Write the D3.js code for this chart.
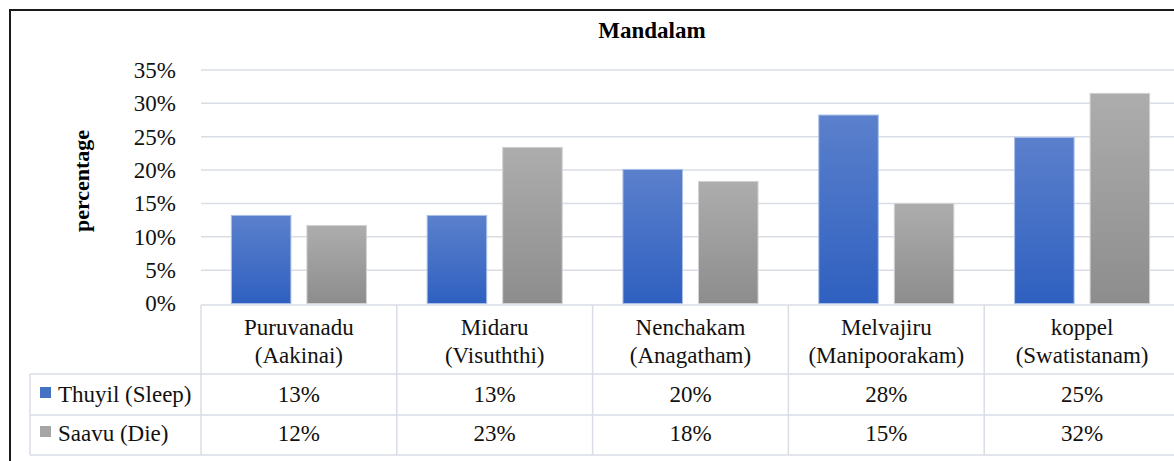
<!DOCTYPE html>
<html>
<head>
<meta charset="utf-8">
<script src="https://cdn.jsdelivr.net/npm/d3@7"></script>
<style>
  body { margin: 0; background: #fff; }
</style>
</head>
<body>
<svg id="chart" width="1174" height="461"></svg>
<script>
// chart data
const categories = [
  ["Puruvanadu", "(Aakinai)"],
  ["Midaru", "(Visuththi)"],
  ["Nenchakam", "(Anagatham)"],
  ["Melvajiru", "(Manipoorakam)"],
  ["koppel", "(Swatistanam)"]
];
const seriesNames = ["Thuyil (Sleep)", "Saavu (Die)"];
const sleepValues = [0.132, 0.132, 0.201, 0.2825, 0.249];
const dieValues = [0.117, 0.234, 0.183, 0.150, 0.315];
const sleepLabels = ["13%", "13%", "20%", "28%", "25%"];
const dieLabels = ["12%", "23%", "18%", "15%", "32%"];
const yTicks = [0, 0.05, 0.10, 0.15, 0.20, 0.25, 0.30, 0.35];

const svg = d3.select("#chart");
const gridColor = "#d9dde6";
const fontSize = 23;
const serif = "'Liberation Serif', 'Times New Roman', serif";

// scales
const x0 = d3.scaleBand()
  .domain(d3.range(categories.length))
  .range([201, 1180])
  .padding(0);

const x1 = d3.scaleBand()
  .domain([0, 1])
  .range([0, x0.bandwidth()])
  .paddingInner(0.212)
  .paddingOuter(0.402);

const y = d3.scaleLinear()
  .domain([0, 0.35])
  .range([303.5, 70]);

// gradients for the bars
const defs = svg.append("defs");
function addGradient(id, top, bottom) {
  const grad = defs.append("linearGradient")
    .attr("id", id)
    .attr("x1", 0).attr("y1", 0)
    .attr("x2", 0).attr("y2", 1);
  grad.append("stop").attr("offset", "0%").attr("stop-color", top);
  grad.append("stop").attr("offset", "100%").attr("stop-color", bottom);
}
addGradient("gBlue", "#5b80cc", "#2f60c0");
addGradient("gGray", "#adadad", "#8d8d8d");
const fills = ["url(#gBlue)", "url(#gGray)"];
const strokes = ["#a9bfe8", "#d2d2d2"];
const swatch = ["#4472c4", "#a5a5a5"];

// outer frame
svg.append("rect")
  .attr("x", 10).attr("y", 10)
  .attr("width", 1300).attr("height", 600)
  .attr("fill", "none")
  .attr("stroke", "#1a1a1a")
  .attr("stroke-width", 2);

// title
svg.append("text")
  .attr("x", 652).attr("y", 38)
  .attr("text-anchor", "middle")
  .attr("font-family", serif)
  .attr("font-weight", "bold")
  .attr("font-size", fontSize)
  .text("Mandalam");

// y axis label
svg.append("text")
  .attr("transform", "translate(89,181) rotate(-90)")
  .attr("text-anchor", "middle")
  .attr("font-family", serif)
  .attr("font-weight", "bold")
  .attr("font-size", fontSize - 1)
  .text("percentage");

// gridlines
svg.append("g")
  .selectAll("line")
  .data(yTicks.slice(1))
  .join("line")
  .attr("x1", 201).attr("x2", 1180)
  .attr("y1", d => y(d)).attr("y2", d => y(d))
  .attr("stroke", gridColor)
  .attr("stroke-width", 1.5);

// y axis
const yAxis = svg.append("g")
  .attr("transform", "translate(201,0)")
  .call(d3.axisLeft(y).tickValues(yTicks).tickFormat(d3.format(".0%")).tickSize(0).tickPadding(25));
yAxis.select(".domain").remove();
yAxis.attr("font-family", serif).attr("font-size", fontSize);
yAxis.selectAll("text").attr("fill", "#111");

// bars
const series = [sleepValues, dieValues];
const groups = svg.append("g")
  .selectAll("g")
  .data(categories.map((c, i) => i))
  .join("g")
  .attr("transform", i => `translate(${x0(i)},0)`);

groups.selectAll("rect")
  .data(i => series.map((s, k) => ({ k: k, v: s[i] })))
  .join("rect")
  .attr("x", d => x1(d.k))
  .attr("width", x1.bandwidth())
  .attr("y", d => y(d.v))
  .attr("height", d => y(0) - y(d.v))
  .attr("fill", d => fills[d.k])
  .attr("stroke", d => strokes[d.k])
  .attr("stroke-width", 1);

// data table
const table = svg.append("g")
  .attr("font-family", serif)
  .attr("font-size", fontSize);
const headTop = 305, row1Top = 374, row2Top = 415, tableBottom = 455;

// horizontal lines
table.append("line")
  .attr("x1", 201).attr("x2", 1180)
  .attr("y1", headTop).attr("y2", headTop);
[row1Top, row2Top, tableBottom].forEach(yy => {
  table.append("line")
    .attr("x1", 30).attr("x2", 1180)
    .attr("y1", yy).attr("y2", yy);
});
// vertical lines
table.append("line")
  .attr("x1", 30).attr("x2", 30)
  .attr("y1", row1Top).attr("y2", tableBottom);
table.selectAll("line.v")
  .data(d3.range(categories.length + 1))
  .join("line")
  .attr("class", "v")
  .attr("x1", i => i < categories.length ? x0(i) : 1180)
  .attr("x2", i => i < categories.length ? x0(i) : 1180)
  .attr("y1", headTop).attr("y2", tableBottom);
table.selectAll("line")
  .attr("stroke", gridColor)
  .attr("stroke-width", 1.5);

// header labels
const header = table.selectAll("text.head")
  .data(categories)
  .join("text")
  .attr("class", "head")
  .attr("text-anchor", "middle")
  .attr("fill", "#111");
header.append("tspan")
  .attr("x", (d, i) => x0(i) + x0.bandwidth() / 2)
  .attr("y", 335)
  .text(d => d[0]);
header.append("tspan")
  .attr("x", (d, i) => x0(i) + x0.bandwidth() / 2)
  .attr("y", 363)
  .text(d => d[1]);

// value rows
const rowLabels = [sleepLabels, dieLabels];
const rowBase = [402, 441];
rowLabels.forEach((labels, k) => {
  table.selectAll("text.val" + k)
    .data(labels)
    .join("text")
    .attr("class", "val" + k)
    .attr("x", (d, i) => x0(i) + x0.bandwidth() / 2)
    .attr("y", rowBase[k])
    .attr("text-anchor", "middle")
    .attr("fill", "#111")
    .text(d => d);

  // legend cell
  table.append("rect")
    .attr("x", 40).attr("y", rowBase[k] - 15)
    .attr("width", 11).attr("height", 11)
    .attr("fill", swatch[k]);
  table.append("text")
    .attr("x", 58).attr("y", rowBase[k])
    .attr("fill", "#111")
    .text(seriesNames[k]);
});
</script>
</body>
</html>
